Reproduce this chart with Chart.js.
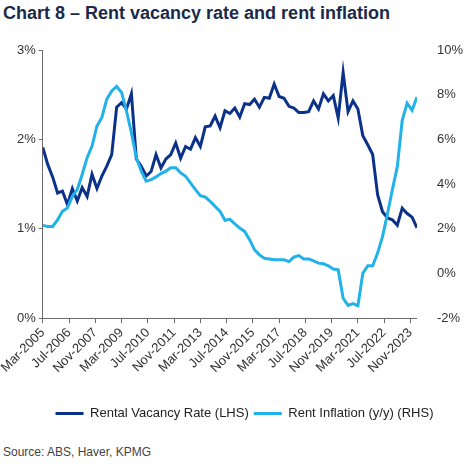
<!DOCTYPE html>
<html>
<head>
<meta charset="utf-8">
<script src="https://cdn.jsdelivr.net/npm/chart.js@4.4.1/dist/chart.umd.min.js"></script>
<style>
  body { margin: 0; background: #fff; font-family: "Liberation Sans", Arial, sans-serif; }
  #wrap { position: relative; width: 471px; height: 466px; overflow: hidden; }
  #title { position: absolute; left: 3px; top: 3px; font-weight: bold; font-size: 18px; color: #1b2a4a; white-space: nowrap; }
  #chart-box { position: absolute; left: 0; top: 30px; width: 471px; height: 400px; }
  #source { position: absolute; left: 3px; top: 445px; font-size: 12px; color: #444; white-space: nowrap; }
</style>
</head>
<body>
<div id="wrap">
  <div id="title">Chart 8 – Rent vacancy rate and rent inflation</div>
  <div id="chart-box"><canvas id="chart"></canvas></div>
  <div id="source">Source: ABS, Haver, KPMG</div>
</div>
<script>
// quarterly, Mar-2005 .. Mar-2024 (x = months since Mar-2005)
const vacancyRate = [
  1.91, 1.72, 1.58, 1.40, 1.42, 1.27, 1.45, 1.31, 1.46, 1.36,
  1.61, 1.45, 1.59, 1.70, 1.83, 2.36, 2.41, 2.34, 2.51, 1.78,
  1.70, 1.59, 1.64, 1.83, 1.68, 1.78, 1.83, 1.96, 1.79, 1.92,
  1.89, 2.02, 1.92, 2.14, 2.15, 2.26, 2.13, 2.32, 2.29, 2.35,
  2.25, 2.40, 2.39, 2.45, 2.36, 2.47, 2.46, 2.62, 2.48, 2.46,
  2.37, 2.35, 2.30, 2.30, 2.31, 2.43, 2.34, 2.51, 2.43, 2.49,
  2.24, 2.75, 2.31, 2.43, 2.34, 2.04, 1.94, 1.83, 1.38, 1.19,
  1.12, 1.10, 1.04, 1.23, 1.17, 1.13, 1.01
];
const rentInflation = [
  2.15, 2.10, 2.10, 2.40, 2.78, 2.93, 3.45, 3.75, 4.43, 5.18,
  5.70, 6.60, 6.98, 7.80, 8.17, 8.37, 8.10, 7.27, 6.30, 5.18,
  4.58, 4.13, 4.20, 4.32, 4.47, 4.58, 4.73, 4.73, 4.50, 4.35,
  4.05, 3.75, 3.48, 3.42, 3.23, 3.00, 2.78, 2.38, 2.42, 2.22,
  2.03, 1.88, 1.51, 1.06, 0.83, 0.68, 0.65, 0.61, 0.61, 0.61,
  0.53, 0.73, 0.80, 0.65, 0.65, 0.56, 0.46, 0.43, 0.34, 0.20,
  0.16, -1.11, -1.43, -1.35, -1.45, 0.01, 0.34, 0.34, 0.91, 1.65,
  2.66, 3.75, 4.77, 6.85, 7.62, 7.30, 7.90
];
const xTickLabels = [
  'Mar-2005', 'Jul-2006', 'Nov-2007', 'Mar-2009', 'Jul-2010', 'Nov-2011', 'Mar-2013', 'Jul-2014',
  'Nov-2015', 'Mar-2017', 'Jul-2018', 'Nov-2019', 'Mar-2021', 'Jul-2022', 'Nov-2023'
];
const leftTicks = [0, 1, 2, 3];
const rightTicks = [-2, 0, 2, 4, 6, 8, 10];

const toPoints = (arr) => arr.map((v, i) => ({ x: i * 3, y: v }));
const axisColor = '#6b6b6b';
const tickFont = { family: '"Liberation Sans", Arial, sans-serif', size: 13 };

new Chart(document.getElementById('chart'), {
  type: 'line',
  data: {
    datasets: [
      {
        label: 'Rental Vacancy Rate (LHS)',
        data: toPoints(vacancyRate),
        yAxisID: 'yL',
        borderColor: '#0b3189',
        backgroundColor: '#0b3189',
        borderWidth: 3,
        pointRadius: 0,
        order: 1
      },
      {
        label: 'Rent Inflation (y/y) (RHS)',
        data: toPoints(rentInflation),
        yAxisID: 'yR',
        borderColor: '#21b2ea',
        backgroundColor: '#21b2ea',
        borderWidth: 3,
        pointRadius: 0,
        order: 0
      }
    ]
  },
  options: {
    responsive: true,
    maintainAspectRatio: false,
    animation: false,
    layout: { padding: { top: 20, left: 14, right: -4, bottom: 0 } },
    scales: {
      x: {
        type: 'linear',
        min: 0,
        max: 228,
        grid: { display: true, drawOnChartArea: false, drawTicks: true, tickLength: 5, color: axisColor },
        border: { display: true, color: axisColor },
        ticks: {
          stepSize: 16,
          includeBounds: false,
          autoSkip: false,
          minRotation: 45,
          maxRotation: 45,
          padding: 2,
          color: '#333',
          font: tickFont,
          callback: (v) => xTickLabels[v / 16]
        },
        afterFit: (axis) => { axis.height += 24; }
      },
      yL: {
        position: 'left',
        min: leftTicks[0],
        max: leftTicks[leftTicks.length - 1],
        grid: { display: true, drawOnChartArea: false, drawTicks: true, tickLength: 4, color: axisColor },
        border: { display: true, color: axisColor },
        ticks: { stepSize: 1, padding: 3, color: '#333', font: tickFont, callback: (v) => v + '%' }
      },
      yR: {
        position: 'right',
        min: rightTicks[0],
        max: rightTicks[rightTicks.length - 1],
        grid: { display: false },
        border: { display: false },
        ticks: { stepSize: 2, padding: 12, color: '#333', font: tickFont, callback: (v) => v + '%' }
      }
    },
    plugins: {
      legend: {
        position: 'bottom',
        labels: {
          boxWidth: 28,
          boxHeight: 3,
          padding: 5,
          color: '#222',
          font: tickFont,
          sort: (a, b) => a.datasetIndex - b.datasetIndex,
          generateLabels: (chart) =>
            Chart.defaults.plugins.legend.labels.generateLabels(chart)
              .map(l => ({ ...l, lineWidth: 0, fillStyle: l.strokeStyle }))
        }
      },
      tooltip: { enabled: false }
    }
  }
});
</script>
</body>
</html>
